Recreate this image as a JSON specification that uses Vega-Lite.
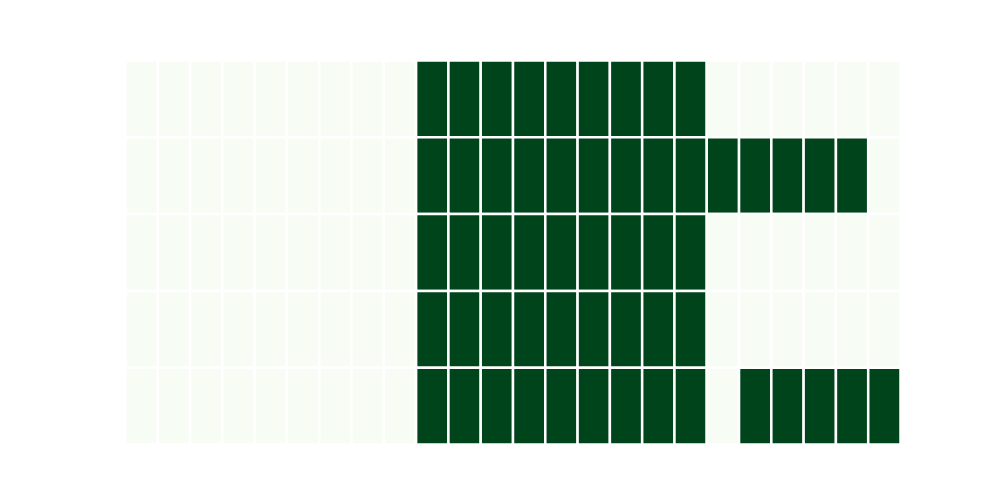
{
  "$schema": "https://vega.github.io/schema/vega-lite/v6.json",
  "width": 775,
  "height": 384,
  "autosize": {"type": "none"},
  "padding": {"left": 125.5, "top": 60.5, "right": 99.5, "bottom": 55.5},
  "background": "white",
  "config": {"view": {"stroke": null}},
  "data": {"values": [
    {"r":0,"c":0,"v":0},{"r":0,"c":1,"v":0},{"r":0,"c":2,"v":0},{"r":0,"c":3,"v":0},{"r":0,"c":4,"v":0},{"r":0,"c":5,"v":0},{"r":0,"c":6,"v":0},{"r":0,"c":7,"v":0},{"r":0,"c":8,"v":0},{"r":0,"c":9,"v":1},{"r":0,"c":10,"v":1},{"r":0,"c":11,"v":1},{"r":0,"c":12,"v":1},{"r":0,"c":13,"v":1},{"r":0,"c":14,"v":1},{"r":0,"c":15,"v":1},{"r":0,"c":16,"v":1},{"r":0,"c":17,"v":1},{"r":0,"c":18,"v":0},{"r":0,"c":19,"v":0},{"r":0,"c":20,"v":0},{"r":0,"c":21,"v":0},{"r":0,"c":22,"v":0},{"r":0,"c":23,"v":0},
    {"r":1,"c":0,"v":0},{"r":1,"c":1,"v":0},{"r":1,"c":2,"v":0},{"r":1,"c":3,"v":0},{"r":1,"c":4,"v":0},{"r":1,"c":5,"v":0},{"r":1,"c":6,"v":0},{"r":1,"c":7,"v":0},{"r":1,"c":8,"v":0},{"r":1,"c":9,"v":1},{"r":1,"c":10,"v":1},{"r":1,"c":11,"v":1},{"r":1,"c":12,"v":1},{"r":1,"c":13,"v":1},{"r":1,"c":14,"v":1},{"r":1,"c":15,"v":1},{"r":1,"c":16,"v":1},{"r":1,"c":17,"v":1},{"r":1,"c":18,"v":1},{"r":1,"c":19,"v":1},{"r":1,"c":20,"v":1},{"r":1,"c":21,"v":1},{"r":1,"c":22,"v":1},{"r":1,"c":23,"v":0},
    {"r":2,"c":0,"v":0},{"r":2,"c":1,"v":0},{"r":2,"c":2,"v":0},{"r":2,"c":3,"v":0},{"r":2,"c":4,"v":0},{"r":2,"c":5,"v":0},{"r":2,"c":6,"v":0},{"r":2,"c":7,"v":0},{"r":2,"c":8,"v":0},{"r":2,"c":9,"v":1},{"r":2,"c":10,"v":1},{"r":2,"c":11,"v":1},{"r":2,"c":12,"v":1},{"r":2,"c":13,"v":1},{"r":2,"c":14,"v":1},{"r":2,"c":15,"v":1},{"r":2,"c":16,"v":1},{"r":2,"c":17,"v":1},{"r":2,"c":18,"v":0},{"r":2,"c":19,"v":0},{"r":2,"c":20,"v":0},{"r":2,"c":21,"v":0},{"r":2,"c":22,"v":0},{"r":2,"c":23,"v":0},
    {"r":3,"c":0,"v":0},{"r":3,"c":1,"v":0},{"r":3,"c":2,"v":0},{"r":3,"c":3,"v":0},{"r":3,"c":4,"v":0},{"r":3,"c":5,"v":0},{"r":3,"c":6,"v":0},{"r":3,"c":7,"v":0},{"r":3,"c":8,"v":0},{"r":3,"c":9,"v":1},{"r":3,"c":10,"v":1},{"r":3,"c":11,"v":1},{"r":3,"c":12,"v":1},{"r":3,"c":13,"v":1},{"r":3,"c":14,"v":1},{"r":3,"c":15,"v":1},{"r":3,"c":16,"v":1},{"r":3,"c":17,"v":1},{"r":3,"c":18,"v":0},{"r":3,"c":19,"v":0},{"r":3,"c":20,"v":0},{"r":3,"c":21,"v":0},{"r":3,"c":22,"v":0},{"r":3,"c":23,"v":0},
    {"r":4,"c":0,"v":0},{"r":4,"c":1,"v":0},{"r":4,"c":2,"v":0},{"r":4,"c":3,"v":0},{"r":4,"c":4,"v":0},{"r":4,"c":5,"v":0},{"r":4,"c":6,"v":0},{"r":4,"c":7,"v":0},{"r":4,"c":8,"v":0},{"r":4,"c":9,"v":1},{"r":4,"c":10,"v":1},{"r":4,"c":11,"v":1},{"r":4,"c":12,"v":1},{"r":4,"c":13,"v":1},{"r":4,"c":14,"v":1},{"r":4,"c":15,"v":1},{"r":4,"c":16,"v":1},{"r":4,"c":17,"v":1},{"r":4,"c":18,"v":0},{"r":4,"c":19,"v":1},{"r":4,"c":20,"v":1},{"r":4,"c":21,"v":1},{"r":4,"c":22,"v":1},{"r":4,"c":23,"v":1}
  ]},
  "mark": {"type": "rect", "stroke": "white", "strokeWidth": 2.5},
  "encoding": {
    "x": {"field": "c", "type": "ordinal", "axis": null, "scale": {"paddingInner": 0, "paddingOuter": 0}},
    "y": {"field": "r", "type": "ordinal", "axis": null, "scale": {"paddingInner": 0, "paddingOuter": 0}},
    "color": {"field": "v", "type": "quantitative", "legend": null, "scale": {"domain": [0, 1], "range": ["#f7fcf5", "#00441b"]}}
  }
}
